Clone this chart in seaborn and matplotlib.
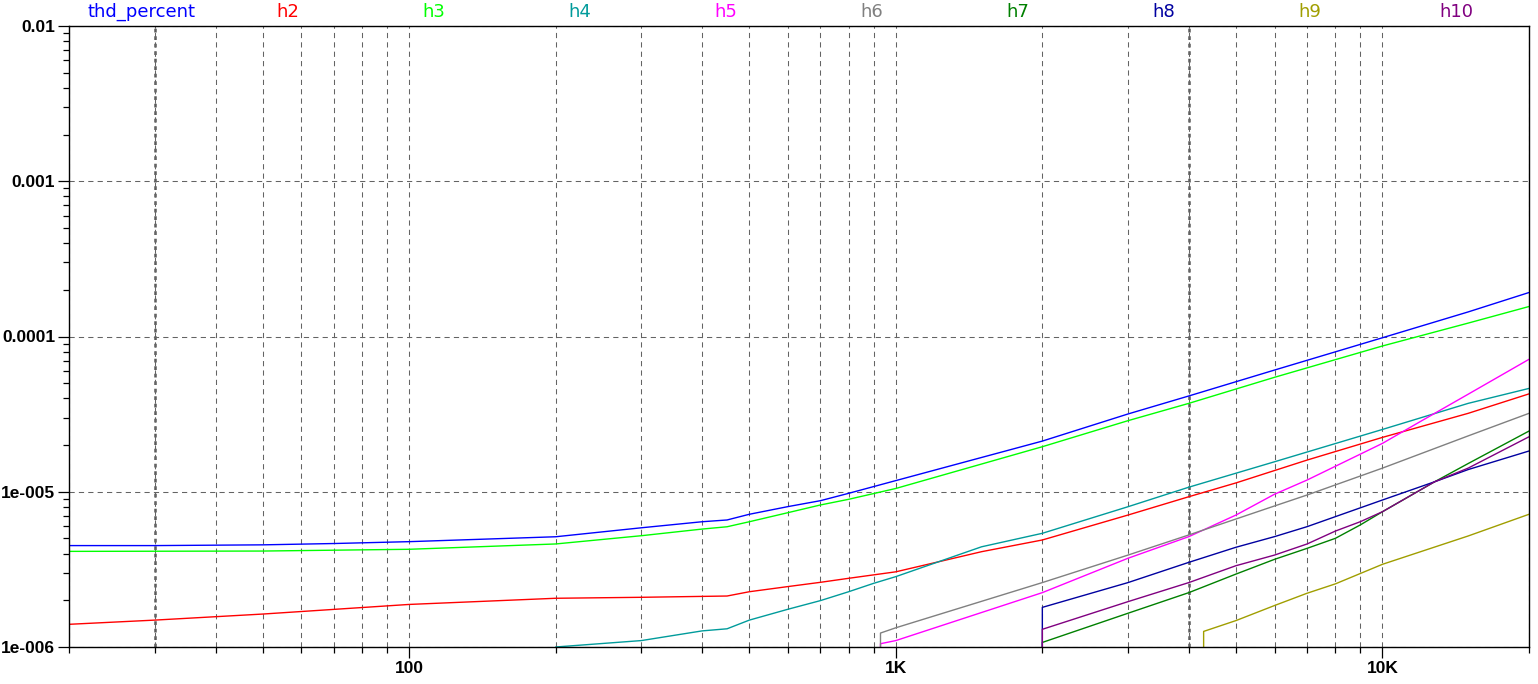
# plot.py
# THD / harmonic levels vs frequency (log-log), SPICE-probe style

import pandas as pd
import seaborn as sns
import matplotlib
matplotlib.use("Agg")
import matplotlib.pyplot as plt
from matplotlib.ticker import FixedLocator, FixedFormatter, NullFormatter, LogLocator

# -----------------------------
# Data
# -----------------------------
thd_freq = [20, 30, 50, 70, 100, 200, 300, 400, 450, 500, 600, 700, 800, 1000, 2000, 3000, 4000, 6000, 10000, 15000, 20000]
thd_vals = [4.50e-6, 4.50e-6, 4.55e-6, 4.64e-6, 4.77e-6, 5.13e-6, 5.86e-6, 6.41e-6, 6.58e-6, 7.16e-6, 8.02e-6, 8.76e-6,
            9.77e-6, 1.18e-5, 2.12e-5, 3.17e-5, 4.14e-5, 6.08e-5, 9.82e-5, 1.44e-4, 1.92e-4]

h2_freq = [20, 30, 50, 100, 200, 300, 450, 500, 600, 700, 800, 1000, 1500, 2000, 3000, 4000, 5000, 7000, 10000, 15000, 20000]
h2_vals = [1.40e-6, 1.49e-6, 1.63e-6, 1.88e-6, 2.06e-6, 2.09e-6, 2.13e-6, 2.27e-6, 2.45e-6, 2.61e-6, 2.77e-6, 3.05e-6,
           4.11e-6, 4.89e-6, 7.08e-6, 9.29e-6, 1.14e-5, 1.60e-5, 2.24e-5, 3.20e-5, 4.27e-5]

h3_freq = [20, 50, 100, 200, 300, 400, 450, 500, 600, 700, 800, 1000, 2000, 3000, 4000, 6000, 10000, 15000, 20000]
h3_vals = [4.13e-6, 4.15e-6, 4.26e-6, 4.61e-6, 5.21e-6, 5.75e-6, 5.95e-6, 6.41e-6, 7.33e-6, 8.22e-6, 8.94e-6, 1.05e-5,
           1.95e-5, 2.87e-5, 3.71e-5, 5.46e-5, 8.69e-5, 1.22e-4, 1.56e-4]

h4_freq = [200, 300, 400, 450, 500, 600, 700, 800, 900, 1000, 1500, 2000, 3000, 4000, 6000, 10000, 15000, 20000]
h4_vals = [1.00e-6, 1.10e-6, 1.27e-6, 1.31e-6, 1.49e-6, 1.75e-6, 1.99e-6, 2.27e-6, 2.57e-6, 2.84e-6, 4.42e-6, 5.40e-6,
           8.01e-6, 1.07e-5, 1.56e-5, 2.52e-5, 3.71e-5, 4.63e-5]

h5_freq = [930, 930, 1000, 2000, 3000, 4000, 5000, 6000, 7000, 10000, 12000, 15000, 20000]
h5_vals = [1e-7, 1.05e-6, 1.10e-6, 2.24e-6, 3.73e-6, 5.14e-6, 7.08e-6, 9.64e-6, 1.19e-5, 2.05e-5, 2.85e-5, 4.25e-5, 7.13e-5]

h6_freq = [930, 930, 1000, 2000, 3000, 4000, 6000, 7000, 10000, 15000, 20000]
h6_vals = [1e-7, 1.23e-6, 1.33e-6, 2.60e-6, 3.91e-6, 5.27e-6, 8.10e-6, 9.53e-6, 1.42e-5, 2.29e-5, 3.20e-5]

h7_freq = [2000, 2000, 3000, 4000, 5000, 6000, 7000, 8000, 9000, 10000, 12800, 15000, 20000]
h7_vals = [1e-7, 1.07e-6, 1.65e-6, 2.24e-6, 2.95e-6, 3.67e-6, 4.32e-6, 5.01e-6, 6.11e-6, 7.44e-6, 1.16e-5, 1.52e-5, 2.46e-5]

h8_freq = [2000, 2000, 3000, 4000, 5000, 6000, 7000, 10000, 12800, 15000, 20000]
h8_vals = [1e-7, 1.80e-6, 2.60e-6, 3.51e-6, 4.39e-6, 5.14e-6, 5.96e-6, 8.85e-6, 1.16e-5, 1.39e-5, 1.83e-5]

h9_freq = [4290, 4290, 5000, 6000, 7000, 8000, 10000, 15000, 20000]
h9_vals = [1e-7, 1.26e-6, 1.48e-6, 1.85e-6, 2.22e-6, 2.55e-6, 3.41e-6, 5.19e-6, 7.16e-6]

h10_freq = [2000, 2000, 3000, 4000, 5000, 6000, 7000, 8000, 9000, 10000, 12800, 15000, 20000]
h10_vals = [1e-7, 1.30e-6, 1.96e-6, 2.60e-6, 3.34e-6, 3.91e-6, 4.61e-6, 5.58e-6, 6.41e-6, 7.44e-6, 1.16e-5, 1.42e-5, 2.26e-5]

series_names = ["thd_percent", "h2", "h3", "h4", "h5", "h6", "h7", "h8", "h9", "h10"]
series_colors = ["#0000ff", "#ff0000", "#00ff00", "#009b9b", "#ff00ff",
                 "#808080", "#008000", "#0000a0", "#a09e00", "#800080"]

y_ticks = [1e-6, 1e-5, 1e-4, 1e-3, 1e-2]
y_labels = ["1e-006", "1e-005", "0.0001", "0.001", "0.01"]
x_ticks = [100, 1000, 10000]
x_labels = ["100", "1K", "10K"]
marked_freqs = [30, 4000]

# -----------------------------
# Long-form table for seaborn
# -----------------------------
all_freqs = [thd_freq, h2_freq, h3_freq, h4_freq, h5_freq, h6_freq, h7_freq, h8_freq, h9_freq, h10_freq]
all_vals = [thd_vals, h2_vals, h3_vals, h4_vals, h5_vals, h6_vals, h7_vals, h8_vals, h9_vals, h10_vals]
frames = []
for name, f, v in zip(series_names, all_freqs, all_vals):
    frames.append(pd.DataFrame({"freq": f, "value": v, "series": name}))
df = pd.concat(frames, ignore_index=True)

# -----------------------------
# Plot
# -----------------------------
sns.set_style("white")
plt.rcParams["font.family"] = ["Liberation Sans", "DejaVu Sans"]

fig = plt.figure(figsize=(15.38, 6.84), dpi=100)
ax = fig.add_axes([69 / 1538, 37 / 684, 1460 / 1538, 621 / 684])

palette = dict(zip(series_names, series_colors))
sns.lineplot(data=df, x="freq", y="value", hue="series", hue_order=series_names,
             palette=palette, estimator=None, sort=False, linewidth=1.0,
             legend=False, ax=ax)

ax.set_xscale("log")
ax.set_yscale("log")
ax.set_xlim(20, 20000)
ax.set_ylim(1e-6, 1e-2)
ax.set_xlabel("")
ax.set_ylabel("")

ax.xaxis.set_major_locator(FixedLocator(x_ticks))
ax.xaxis.set_major_formatter(FixedFormatter(x_labels))
ax.xaxis.set_minor_locator(LogLocator(base=10, subs=range(2, 10)))
ax.xaxis.set_minor_formatter(NullFormatter())
ax.yaxis.set_major_locator(FixedLocator(y_ticks))
ax.yaxis.set_major_formatter(FixedFormatter(y_labels))
ax.yaxis.set_minor_locator(LogLocator(base=10, subs=range(2, 10)))
ax.yaxis.set_minor_formatter(NullFormatter())

grid_style = dict(color="#646464", linestyle=(0, (5, 4)), linewidth=0.75)
ax.grid(which="major", axis="both", **grid_style)
ax.grid(which="minor", axis="x", **grid_style)
for f in marked_freqs:
    ax.axvline(f, color="#5a5a5a", linestyle=(0, (1.5, 1.5)), linewidth=1.8, zorder=0.5)
ax.set_axisbelow(True)

for side in ["left", "bottom", "top", "right"]:
    ax.spines[side].set_color("black")
    ax.spines[side].set_linewidth(1.0)

ax.tick_params(which="major", direction="out", length=8, width=0.9, color="black",
               labelsize=12.5, labelcolor="black", pad=2, left=True, bottom=True)
ax.tick_params(which="minor", direction="out", length=4, width=0.9, color="black",
               left=True, bottom=True)
for lab in ax.get_xticklabels() + ax.get_yticklabels():
    lab.set_fontweight("bold")

# colored trace names along the top
for i, (name, col) in enumerate(zip(series_names, series_colors)):
    ax.text((i + 0.5) / 10, 1 + 14 / 621, name, transform=ax.transAxes,
            ha="center", va="center", color=col, fontsize=13,
            family=["DejaVu Sans"])

fig.savefig("out.png", dpi=100)
plt.close(fig)
